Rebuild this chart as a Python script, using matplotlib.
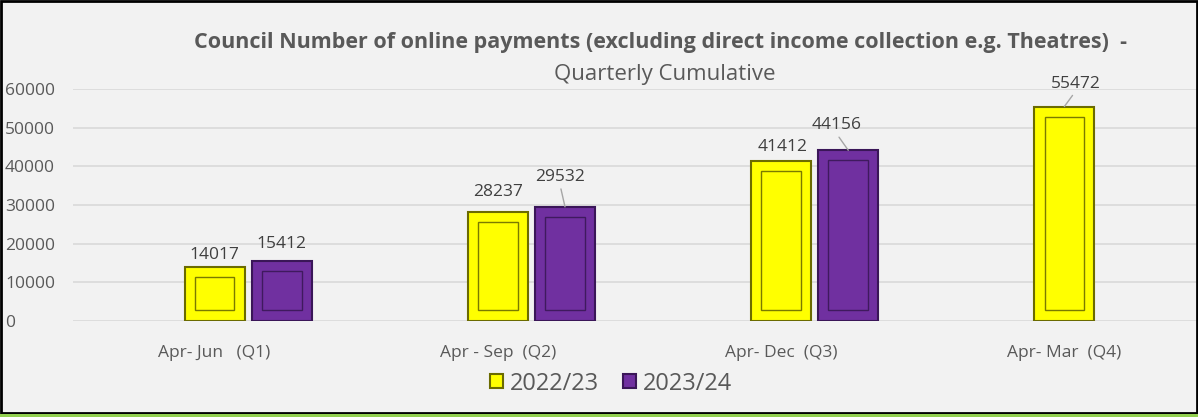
import matplotlib.pyplot as plt
import numpy as np
from matplotlib.patches import Rectangle

quarters = ["Apr- Jun   (Q1)", "Apr - Sep  (Q2)", "Apr- Dec  (Q3)", "Apr- Mar  (Q4)"]
fy_2022 = [14017, 28237, 41412, 55472]
fy_2023 = [15412, 29532, 44156, None]
series_names = ["2022/23", "2023/24"]

plt.rcParams["font.family"] = ["Open Sans", "DejaVu Sans"]
grey = "#595959"

fig = plt.figure(figsize=(11.98, 4.17), dpi=100, facecolor="#f2f2f2")
ax = fig.add_axes([73 / 1198, 96 / 417, 1133 / 1198, 232 / 417])
ax.set_facecolor("#f2f2f2")

x = np.arange(len(quarters))
w = 0.212
off = 0.237

styles = [
    dict(face="#ffff00", edge="#6b6b00", inner="#7a7a00"),
    dict(face="#7030a0", edge="#3a1658", inner="#3f1a5e"),
]

for i, (vals, st) in enumerate(zip([fy_2022, fy_2023], styles)):
    xs = [xx + i * off for xx, v in zip(x, vals) if v is not None]
    vs = [v for v in vals if v is not None]
    ax.bar(xs, vs, width=w, color=st["face"], edgecolor=st["edge"], linewidth=1.5,
           zorder=3, label=series_names[i])
    # inner frame of the bevel
    ax.bar(xs, [v - 5400 for v in vs], bottom=2800, width=w * 0.66, fill=False,
           edgecolor=st["inner"], linewidth=1.0, zorder=4)

# data labels (pixel offsets, some with leader lines)
labels = [
    (x[0], fy_2022[0], 0, 12, False),
    (x[0] + off, fy_2023[0], 0, 17, False),
    (x[1], fy_2022[1], 0, 20, False),
    (x[1] + off, fy_2023[1], -5, 30, True),
    (x[2], fy_2022[2], 2, 14, False),
    (x[2] + off, fy_2023[2], -12, 25, True),
    (x[3], fy_2022[3], 11, 23, True),
]
for xx, v, dx, dy, lead in labels:
    ax.annotate(str(v), (xx, v), xytext=(dx, dy), textcoords="offset pixels",
                ha="center", va="center", fontsize=12.5, color="#404040",
                arrowprops=dict(arrowstyle="-", color="#a6a6a6", lw=1,
                                relpos=(0.5, 0), shrinkA=1, shrinkB=0) if lead else None,
                zorder=5)

ax.set_ylim(0, 60000)
ax.set_xlim(-0.5, 3.5)
ax.set_yticks(range(0, 60001, 10000))
ax.yaxis.grid(True, color="#d9d9d9", linewidth=1.2, zorder=0)
ax.set_axisbelow(True)
for s in ax.spines.values():
    s.set_visible(False)
ax.set_xticks(x)
ax.set_xticklabels(quarters)
ax.tick_params(axis="x", length=0, pad=17, labelsize=12.5, labelcolor=grey)
ax.tick_params(axis="y", length=0, pad=49, labelsize=12.5, labelcolor=grey)
for lbl in ax.get_yticklabels():
    lbl.set_ha("left")

fig.text(0.551, 0.898,
         "Council Number of online payments (excluding direct income collection e.g. Theatres)  -",
         ha="center", va="center", fontsize=15.5, fontweight="bold", color=grey)
fig.text(0.555, 0.822, "Quarterly Cumulative", ha="center", va="center",
         fontsize=16, color=grey)

leg = fig.legend(loc="center", bbox_to_anchor=(0.51, 0.08), ncol=2, frameon=False,
                 fontsize=17, handlelength=0.55, handleheight=0.55, handletextpad=0.3,
                 columnspacing=1.0, labelcolor=grey)

# outer border and green bottom edge
fig.patches.append(Rectangle((0.001, 0.01), 0.998, 0.988, transform=fig.transFigure,
                             fill=False, edgecolor="black", linewidth=2))
fig.patches.append(Rectangle((0, 0), 1, 0.006, transform=fig.transFigure,
                             facecolor="#92d050", edgecolor="none"))

fig.savefig("out.png", dpi=100, facecolor=fig.get_facecolor())
